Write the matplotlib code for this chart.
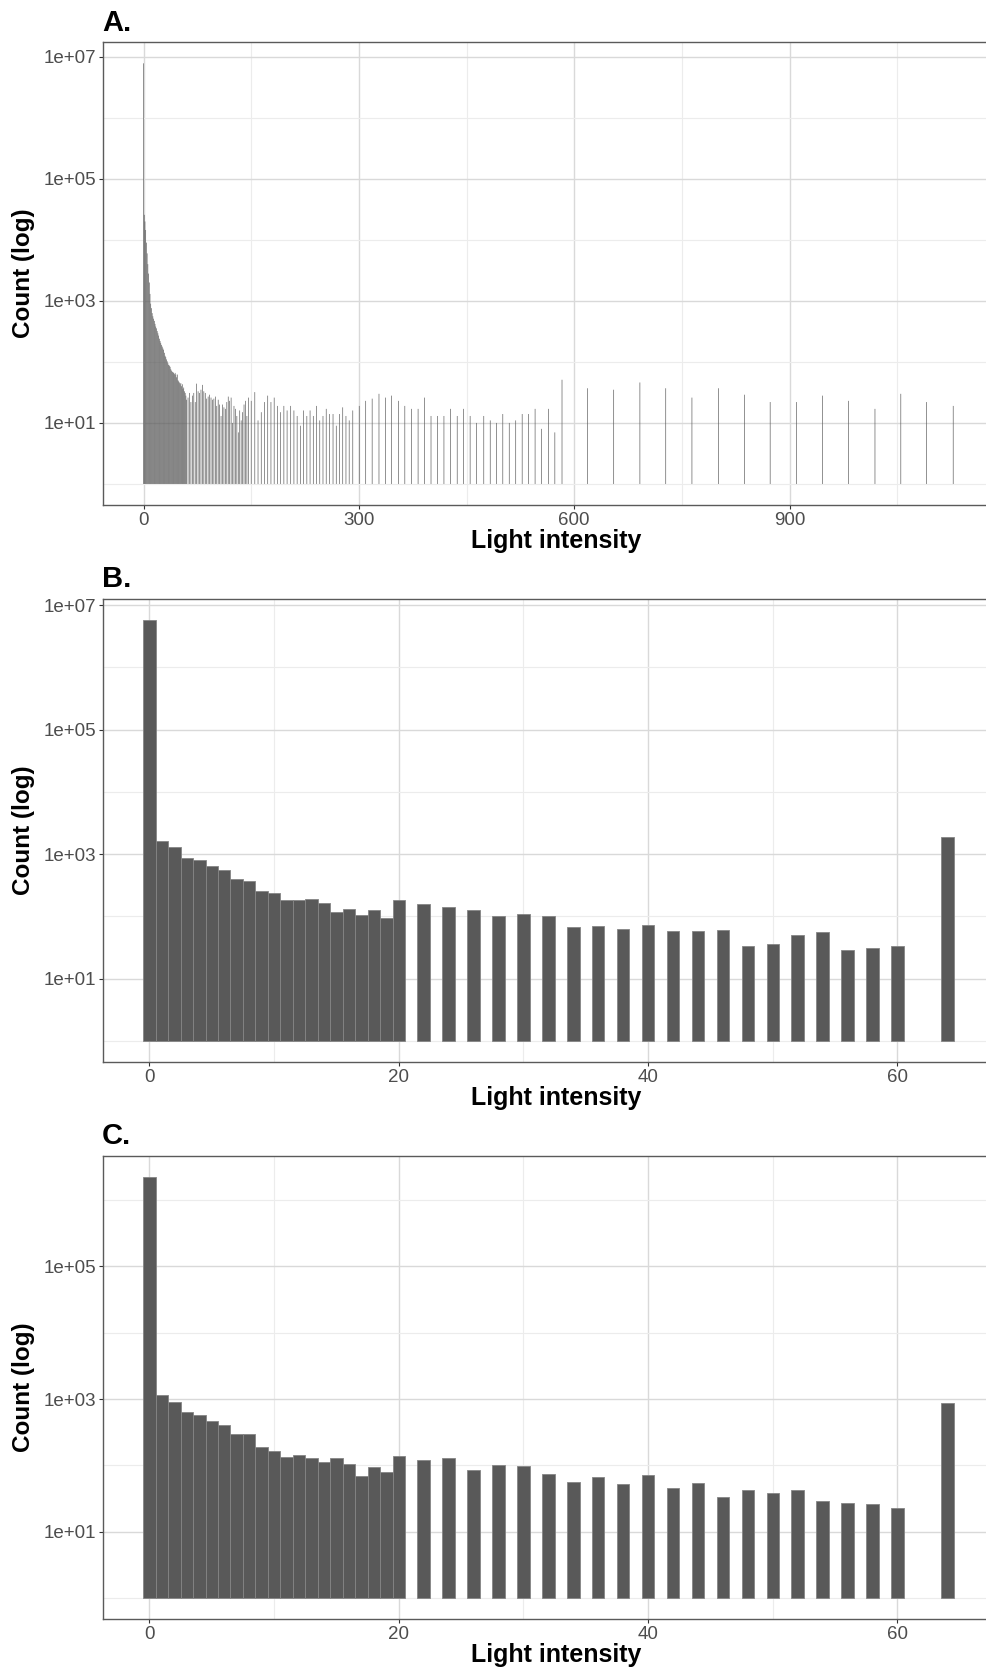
import numpy as np
import matplotlib
matplotlib.use('Agg')
import matplotlib.pyplot as plt
from matplotlib.ticker import FuncFormatter

plt.rcParams['font.family'] = ['Liberation Sans', 'DejaVu Sans']

# ---- A. whole intensity range (counts per recorded value) ----
a_x_1 = list(range(0, 60))
a_n_1 = [7.8e6, 25700, 20000, 14500, 9000, 6000, 4000, 2800, 2000, 1300,
         900, 760, 630, 560, 510, 470, 420, 380, 355, 320,
         295, 270, 240, 220, 205, 190, 178, 166, 158, 141,
         126, 120, 110, 102, 95, 89, 87, 83, 76, 72,
         69, 68, 66, 63, 66, 62, 56, 62, 50, 48,
         46, 43, 45, 40, 43, 36, 38, 33, 31, 28]
a_x_2 = list(range(60, 148, 2))
a_n_2 = [24, 26, 31, 22, 28, 31, 22, 44, 33, 31,
         35, 42, 33, 31, 25, 27, 29, 26, 24, 25,
         27, 19, 24, 20, 13, 20, 18, 17, 22, 27,
         23, 26, 10, 19, 17, 13, 7, 16, 11, 15,
         20, 23, 13, 26]
a_x_3 = [150, 155, 159.5, 164, 168.5, 173, 177.5, 182, 186.5, 191, 195.5, 200,
         205, 209.5, 214, 218.5, 223, 227.5, 232, 236.5, 241, 245.5, 250, 254.5,
         259, 264, 268.5, 273, 277.5, 282, 286.5, 291.5]
a_n_3 = [23, 32, 11, 15, 22, 28, 22, 26, 19, 15, 19, 16,
         19, 16, 13, 9, 16, 13, 16, 13, 19, 11, 13, 17,
         14, 14, 9, 14, 18, 13, 11, 16]
a_x_4 = [300.5, 309.5, 318.5, 328, 337, 345.5, 355, 364, 373.5, 382.5, 391.5,
         400.5, 409.5, 418.5, 427.5, 437, 446, 455, 464, 474, 483, 491.5,
         500.5, 509.5, 518.5, 527.5, 536.5, 545.5, 554.5, 564, 573, 583]
a_n_4 = [19, 23, 25, 30, 26, 28, 23, 19, 17, 17, 26,
         13, 13, 13, 17, 13, 17, 13, 10, 13, 11, 10,
         14, 10, 11, 14, 14, 17, 8, 17, 7, 51]
a_x_5 = [618.5, 655, 691.5, 727.5, 764, 801, 837, 873, 909.5, 946, 982,
         1019, 1055, 1091, 1128]
a_n_5 = [37, 35, 46, 37, 26, 37, 29, 22, 22, 28, 23, 17, 30, 22, 19]

a_x = a_x_1 + a_x_2 + a_x_3 + a_x_4 + a_x_5
a_n = a_n_1 + a_n_2 + a_n_3 + a_n_4 + a_n_5

# ---- B. and C. low intensities ----
bc_x = list(range(0, 21)) + list(range(22, 62, 2)) + [64]
b_n = [5.78e6, 1660, 1300, 875, 813, 643, 556, 398, 378, 258,
       237, 181, 181, 192, 162, 116, 131, 104, 126, 95, 185,
       156, 140, 126, 100, 110, 100, 67, 70, 64, 74,
       58, 58, 60, 33, 36, 50, 56, 29, 31, 34,
       1900]
c_n = [2.24e6, 1153, 895, 640, 577, 463, 403, 298, 298, 192,
       165, 134, 142, 128, 114, 128, 106, 70, 94, 79, 137,
       122, 128, 87, 102, 97, 74, 56, 67, 52, 71,
       46, 54, 33, 43, 38, 42, 29, 27, 26, 23,
       883]

a_xticks = [0, 300, 600, 900]
a_xminor = [150, 450, 750, 1050]
bc_xticks = [0, 20, 40, 60]
bc_xminor = [10, 30, 50]
y_major = [1e1, 1e3, 1e5, 1e7]
y_minor = [1e0, 1e2, 1e4, 1e6]

fig = plt.figure(figsize=(9.86, 16.72), dpi=100)

left = 102.7 / 986
width = 0.904
ax_a = fig.add_axes([left, 1 - 505 / 1672, width, 462.7 / 1672])
ax_b = fig.add_axes([left, 1 - 1062 / 1672, width, 463 / 1672])
ax_c = fig.add_axes([left, 1 - 1619.3 / 1672, width, 463.6 / 1672])


def draw_panel(ax, x, n, w, xticks, xminor, tag, tag_y, edge):
    x = np.asarray(x, dtype=float)
    n = np.asarray(n, dtype=float)
    if edge:
        ax.bar(x, n - 1, bottom=1, width=w, color='#595959',
               edgecolor='#858585', linewidth=0.6, zorder=3)
    else:
        # hairline bars: no snapping so every value stays visible
        bars = ax.bar(x, n - 1, bottom=1, width=w, color='#595959',
                      linewidth=0, zorder=3)
        for b in bars:
            b.set_snap(False)
    ax.set_yscale('log')

    # 5% expansion like ggplot
    lo, hi = x.min() - w / 2, x.max() + w / 2
    pad = 0.05 * (hi - lo)
    ax.set_xlim(lo - pad, hi + pad)
    top = np.log10(n.max())
    ax.set_ylim(10 ** (-0.05 * top), 10 ** (1.05 * top))

    ax.set_xticks(xticks)
    ax.set_xticks(xminor, minor=True)
    yt = [v for v in y_major if v < 10 ** (1.05 * top)]
    ym = [v for v in y_minor if v < 10 ** (1.05 * top)]
    ax.set_yticks(yt)
    ax.set_yticks(ym, minor=True)
    ax.yaxis.set_major_formatter(FuncFormatter(lambda v, p: '%.0e' % v))
    ax.yaxis.set_minor_formatter(FuncFormatter(lambda v, p: ''))

    ax.grid(which='major', color='#d9d9d9', linewidth=1.0, zorder=0)
    ax.grid(which='minor', color='#ececec', linewidth=0.8, zorder=0)
    ax.set_axisbelow(True)

    ax.tick_params(which='major', length=3, width=0.8, color='#333333',
                   labelsize=13.5, labelcolor='#4d4d4d', pad=2)
    ax.tick_params(which='minor', length=0)
    for s in ax.spines.values():
        s.set_color('#5a5a5a')
        s.set_linewidth(1.0)

    ax.set_xlabel('Light intensity', fontsize=18, fontweight='bold', labelpad=1)
    ax.xaxis.label.set_va('top')
    ax.xaxis.set_label_coords(0.509, -0.052)
    ax.set_ylabel('Count (log)', fontsize=17.5, fontweight='bold')
    ax.yaxis.label.set_va('center')
    ax.yaxis.set_label_coords(-0.089, 0.5)

    fig.text(102 / 986, 1 - tag_y / 1672, tag, fontsize=21,
             fontweight='bold', va='baseline', ha='left')


draw_panel(ax_a, a_x, a_n, 0.9, a_xticks, a_xminor, 'A.', 31, False)
draw_panel(ax_b, bc_x, b_n, 1.0, bc_xticks, bc_xminor, 'B.', 587, True)
draw_panel(ax_c, bc_x, c_n, 1.0, bc_xticks, bc_xminor, 'C.', 1144, True)

fig.savefig('out.png', dpi=100, facecolor='white')
